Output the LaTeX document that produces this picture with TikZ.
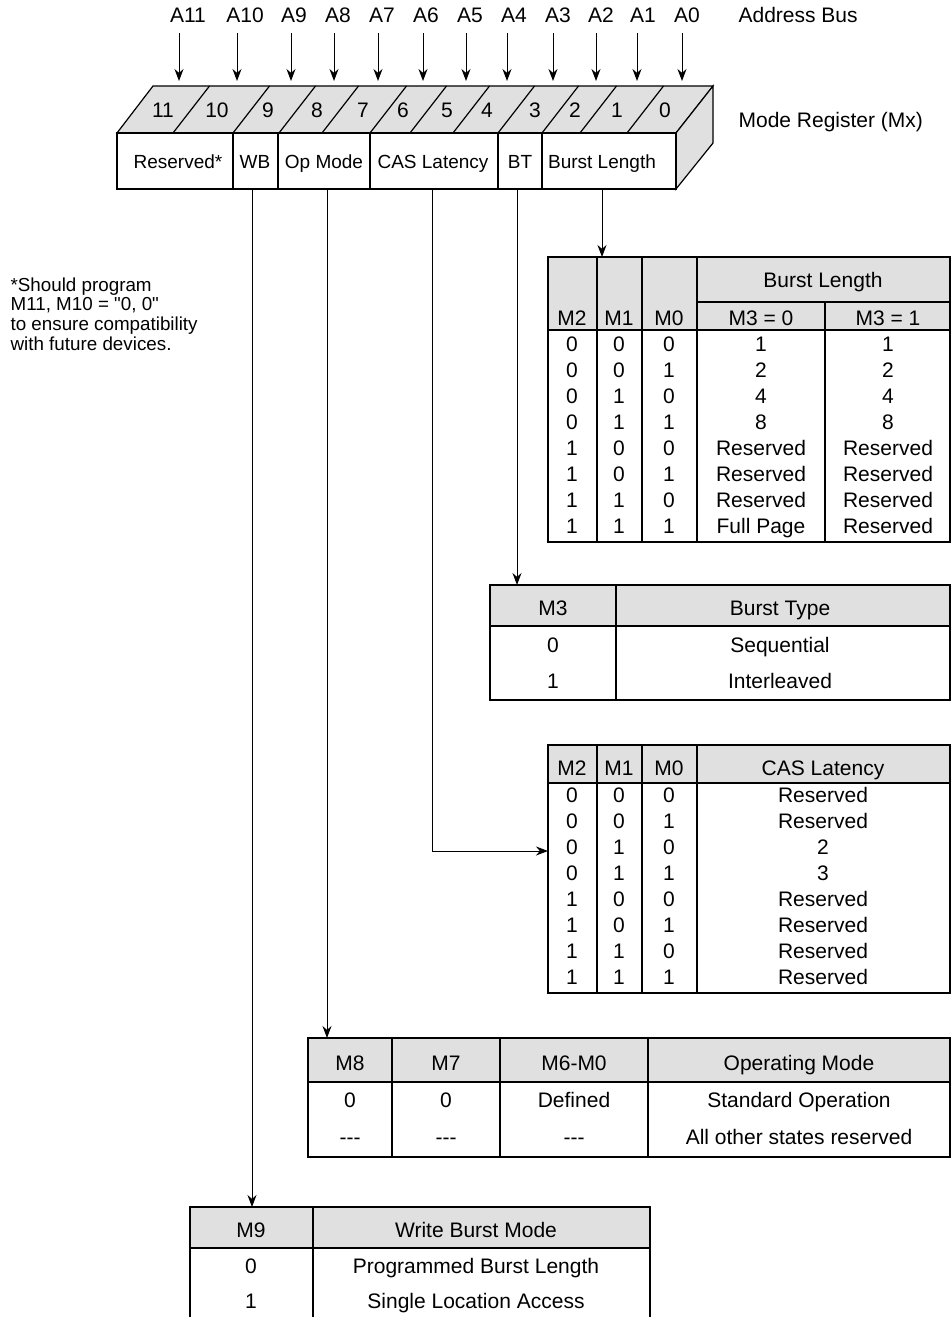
\documentclass[tikz,border=0pt]{standalone}
\usepackage{fontspec}
\setmainfont{Liberation Sans}[Ligatures=TeXOff]
\usetikzlibrary{arrows.meta}
\definecolor{panelgray}{gray}{0.88}
\tikzset{
  lbl/.style={inner sep=0pt, text height=7.5pt, text depth=0pt, font=\fontsize{10.5}{12}\selectfont},
  fieldlbl/.style={lbl, text height=6.8pt, font=\fontsize{9.5}{11}\selectfont},
  notetext/.style={inner sep=0pt, align=left, font=\fontsize{9.4}{9.8}\selectfont},
  feed/.style={-{Stealth[length=6pt,width=4.5pt]}, line width=0.5pt},
}
\begin{document}
\begin{tikzpicture}[x=0.5pt,y=-0.5pt,line width=0.6pt]
  \useasboundingbox (0,0) rectangle (952,1317);
  % address bus
  \foreach \bit/\ax/\lx in {11/179/188, 10/237/245, 9/291/294, 8/334/338, 7/378/382, 6/423/426,
                            5/466/470, 4/507/514, 3/553/558, 2/596/601, 1/637/643, 0/682/687}{
    \node[lbl] (a\bit) at (\lx,15) {A\bit};
    \coordinate (s\bit) at (\ax,33);
    \coordinate (t\bit) at (\ax,81);
    \draw[feed] (s\bit) -- (t\bit);
  }
  \node[lbl, anchor=west] (busname) at (738,15) {Address Bus};
  % mode register, top face and side face
  \filldraw[fill=panelgray] (117,133) -- (153,86) -- (713,86) -- (676,133) -- cycle;
  \filldraw[fill=panelgray] (676,133) -- (713,86) -- (713,143) -- (676,189) -- cycle;
  \foreach \b in {173,233,279,322,370,410,453,498,542,580,627}
    \draw (\b,133) -- ++(36.5,-47);
  \foreach \n/\x in {11/163, 10/217, 9/268, 8/317, 7/363, 6/403, 5/447, 4/487, 3/535, 2/575, 1/617, 0/665}
    \node[lbl] (m\n) at (\x,110) {\n};
  \node[lbl, anchor=west] (regname) at (738,120) {Mode Register (Mx)};
  % mode register, front face
  \draw (117,133) rectangle (676,189);
  \foreach \b in {233,278,370,498,542}
    \draw (\b,133) -- (\b,189);
  \node[fieldlbl] (fres) at (178,162) {Reserved*};
  \node[fieldlbl] (fwb) at (255,162) {WB};
  \node[fieldlbl] (fop) at (324,162) {Op Mode};
  \node[fieldlbl] (fcas) at (433,162) {CAS Latency};
  \node[fieldlbl] (fbt) at (520,162) {BT};
  \node[fieldlbl] (fbl) at (602,162) {Burst Length};
  \coordinate (wbout) at (252,189);
  \coordinate (opout) at (327,189);
  \coordinate (casout) at (432,189);
  \coordinate (btout) at (517,189);
  \coordinate (blout) at (602,189);
  % footnote
  \node[notetext, anchor=north west] (note) at (10,277)
    {*Should program\\M11, M10 = "0, 0"\\to ensure compatibility\\with future devices.};

  % burst length table
  \coordinate (bl-nw) at (548,257);
  \fill[panelgray] (548,257) rectangle (950,330);
  \draw (548,257) rectangle (950,542);
  \draw (548,330) -- (950,330);
  \draw (697,302) -- (950,302);
  \foreach \c in {597,642,697} \draw (\c,257) -- (\c,542);
  \draw (825,302) -- (825,542);
  \node[lbl] (blhead) at (823,280) {Burst Length};
  \foreach \t/\x [count=\i] in {M2/572, M1/619, M0/669, M3 = 0/761, M3 = 1/888}
    \node[lbl] (blh\i) at (\x,318) {\t};
  \foreach \a/\b/\c/\d/\e [count=\r] in {0/0/0/1/1, 0/0/1/2/2, 0/1/0/4/4, 0/1/1/8/8,
      1/0/0/Reserved/Reserved, 1/0/1/Reserved/Reserved, 1/1/0/Reserved/Reserved, 1/1/1/Full Page/Reserved}{
    \pgfmathsetmacro\yy{318+26*\r}
    \node[lbl] (bl\r a) at (572,\yy) {\a};
    \node[lbl] (bl\r b) at (619,\yy) {\b};
    \node[lbl] (bl\r c) at (669,\yy) {\c};
    \node[lbl] (bl\r d) at (761,\yy) {\d};
    \node[lbl] (bl\r e) at (888,\yy) {\e};
  }

  % burst type table
  \coordinate (bt-nw) at (490,585);
  \fill[panelgray] (490,585) rectangle (950,626);
  \draw (490,585) rectangle (950,700);
  \draw (490,626) -- (950,626);
  \draw (616,585) -- (616,700);
  \node[lbl] (bth1) at (553,608) {M3};
  \node[lbl] (bth2) at (780,608) {Burst Type};
  \node[lbl] (bt1a) at (553,645) {0};
  \node[lbl] (bt1b) at (780,645) {Sequential};
  \node[lbl] (bt2a) at (553,681) {1};
  \node[lbl] (bt2b) at (780,681) {Interleaved};

  % cas latency table
  \coordinate (cas-in) at (548,851);
  \fill[panelgray] (548,745) rectangle (950,783);
  \draw (548,745) rectangle (950,993);
  \draw (548,783) -- (950,783);
  \foreach \c in {597,642,697} \draw (\c,745) -- (\c,993);
  \foreach \t/\x [count=\i] in {M2/572, M1/619, M0/669, CAS Latency/823}
    \node[lbl] (cash\i) at (\x,768) {\t};
  \foreach \a/\b/\c/\d [count=\r] in {0/0/0/Reserved, 0/0/1/Reserved, 0/1/0/2, 0/1/1/3,
      1/0/0/Reserved, 1/0/1/Reserved, 1/1/0/Reserved, 1/1/1/Reserved}{
    \pgfmathsetmacro\yy{769+26*\r}
    \node[lbl] (cas\r a) at (572,\yy) {\a};
    \node[lbl] (cas\r b) at (619,\yy) {\b};
    \node[lbl] (cas\r c) at (669,\yy) {\c};
    \node[lbl] (cas\r d) at (823,\yy) {\d};
  }

  % operating mode table
  \coordinate (op-nw) at (308,1038);
  \fill[panelgray] (308,1038) rectangle (950,1082);
  \draw (308,1038) rectangle (950,1157);
  \draw (308,1082) -- (950,1082);
  \foreach \c in {392,500,648} \draw (\c,1038) -- (\c,1157);
  \foreach \t/\x [count=\i] in {M8/350, M7/446, M6-M0/574, Operating Mode/799}
    \node[lbl] (oph\i) at (\x,1063) {\t};
  \foreach \t/\x [count=\i] in {0/350, 0/446, Defined/574, Standard Operation/799}
    \node[lbl] (op1\i) at (\x,1100) {\t};
  \foreach \t/\x [count=\i] in {---/350, ---/446, ---/574, All other states reserved/799}
    \node[lbl] (op2\i) at (\x,1137) {\t};

  % write burst mode table
  \coordinate (wb-nw) at (190,1207);
  \fill[panelgray] (190,1207) rectangle (650,1248);
  \draw (190,1317) -- (190,1207) -- (650,1207) -- (650,1317);
  \draw (190,1248) -- (650,1248);
  \draw (313,1207) -- (313,1317);
  \node[lbl] (wbh1) at (251,1230) {M9};
  \node[lbl] (wbh2) at (476,1230) {Write Burst Mode};
  \node[lbl] (wb1a) at (251,1266) {0};
  \node[lbl] (wb1b) at (476,1266) {Programmed Burst Length};
  \node[lbl] (wb2a) at (251,1301) {1};
  \node[lbl] (wb2b) at (476,1301) {Single Location Access};

  % field connectors
  \draw[feed] (blout) -- (blout |- bl-nw);
  \draw[feed] (btout) -- (btout |- bt-nw);
  \draw[feed] (casout) |- (cas-in);
  \draw[feed] (opout) -- (opout |- op-nw);
  \draw[feed] (wbout) -- (wbout |- wb-nw);
\end{tikzpicture}
\end{document}
